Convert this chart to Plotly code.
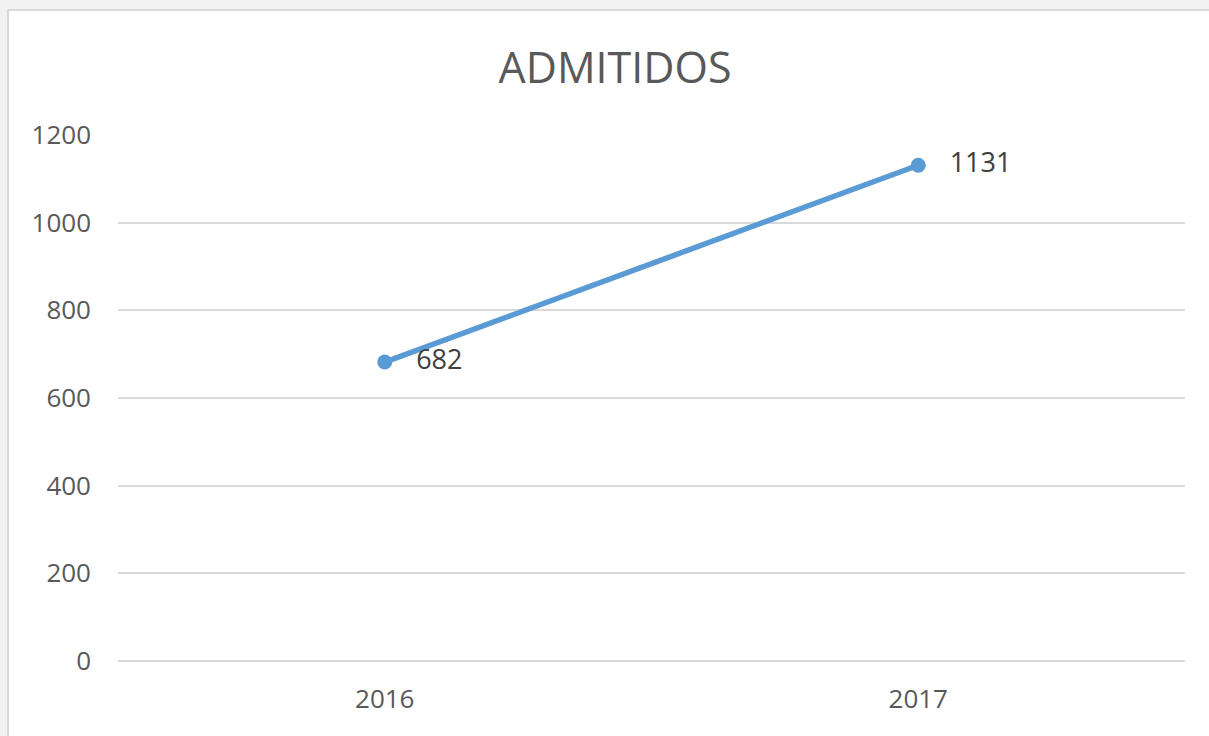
import plotly.graph_objects as go

years = ["2016", "2017"]
admitidos = [682, 1131]
y_ticks = [0, 200, 400, 600, 800, 1000, 1200]

W, H = 1209, 736
L, R, T, B = 118, 24, 135, 75
pw, ph = W - L - R, H - T - B

def px_x(x):
    return (x - L) / pw

def px_y(y):
    return (H - B - y) / ph

fig = go.Figure()
fig.add_trace(go.Scatter(
    x=years, y=admitidos,
    mode="lines+markers+text",
    line=dict(color="#5b9bd5", width=5.5),
    marker=dict(size=15, color="#5b9bd5"),
    text=["   " + str(v) for v in admitidos],
    textposition="middle right",
    textfont=dict(family="Open Sans", size=27, color="#404040"),
    cliponaxis=False,
    hoverinfo="x+y",
))

fig.add_shape(type="rect", xref="paper", yref="paper",
              x0=px_x(8), x1=px_x(1220), y0=px_y(750), y1=px_y(10),
              fillcolor="white", line=dict(color="#d9d9d9", width=2), layer="below")

fig.update_layout(
    width=W, height=H,
    margin=dict(l=L, r=R, t=T, b=B, pad=0),
    paper_bgcolor="#f2f2f2",
    plot_bgcolor="rgba(0,0,0,0)",
    showlegend=False,
    title=dict(text="ADMITIDOS", x=615 / W, xanchor="center", xref="container",
               y=1 - 68 / H, yanchor="middle", yref="container",
               font=dict(family="Open Sans", size=43, color="#595959")),
    font=dict(family="Open Sans", color="#595959"),
)
fig.update_xaxes(type="category", range=[-0.5, 1.5], showgrid=False, showline=False,
                 ticks="", tickfont=dict(size=26, color="#595959"), ticklabelstandoff=20)
fig.update_yaxes(range=[0, 1200], tickvals=y_ticks, showgrid=True, gridcolor="#d9d9d9",
                 gridwidth=2, zeroline=True, zerolinecolor="#d9d9d9", zerolinewidth=2,
                 showline=False, ticks="", tickfont=dict(size=26, color="#595959"),
                 ticklabelstandoff=26)

fig.write_html("out.html", config={"displayModeBar": False},
               post_script="document.body.style.margin='0';document.body.style.background='#f2f2f2';")
